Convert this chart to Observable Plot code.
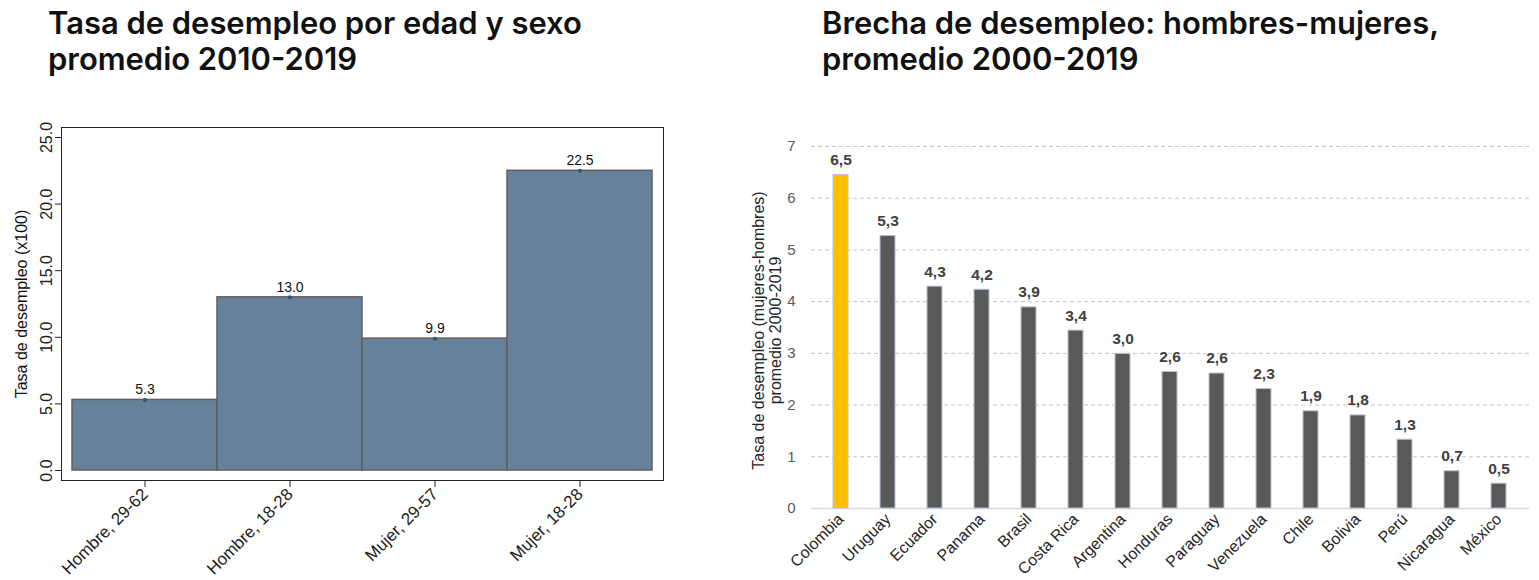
<!DOCTYPE html>
<html><head><meta charset="utf-8">
<script src="https://cdn.jsdelivr.net/npm/d3@7"></script>
<script src="https://cdn.jsdelivr.net/npm/@observablehq/plot@0.6"></script>
<style>
body{margin:0;background:#fff;width:1539px;height:580px;position:relative;overflow:hidden;font-family:"Liberation Sans",Arial,sans-serif}
.title{position:absolute;font-family:Inter,Roboto,"Liberation Sans",sans-serif;font-weight:600;font-size:30px;line-height:36px;color:#111;white-space:nowrap}
#t1{left:48px;top:5px}
#t2{left:822px;top:5px}
#c1{position:absolute;left:0;top:100px}
#c2{position:absolute;left:700px;top:100px}
</style></head><body>
<div class="title" id="t1"><span id="l1">Tasa de desempleo por edad y sexo</span><br>promedio 2010-2019</div>
<div class="title" id="t2">Brecha de desempleo: hombres-mujeres,<br>promedio 2000-2019</div>
<div id="c1"></div>
<div id="c2"></div>
<script>
// Left chart data
const groups = ["Hombre, 29-62", "Hombre, 18-28", "Mujer, 29-57", "Mujer, 18-28"];
const rates = [5.3, 13.0, 9.9, 22.5];
const rateLabels = ["5.3", "13.0", "9.9", "22.5"];
const rateTicks = [0, 5, 10, 15, 20, 25];
const rateTickLabels = ["0.0", "5.0", "10.0", "15.0", "20.0", "25.0"];
const rateAxisTitle = "Tasa de desempleo (x100)";

// Right chart data
const countries = ["Colombia", "Uruguay", "Ecuador", "Panama", "Brasil", "Costa Rica", "Argentina", "Honduras", "Paraguay", "Venezuela", "Chile", "Bolivia", "Perú", "Nicaragua", "México"];
const gaps = [6.45, 5.27, 4.29, 4.23, 3.89, 3.44, 2.99, 2.64, 2.61, 2.31, 1.88, 1.80, 1.33, 0.72, 0.48];
const gapLabels = ["6,5", "5,3", "4,3", "4,2", "3,9", "3,4", "3,0", "2,6", "2,6", "2,3", "1,9", "1,8", "1,3", "0,7", "0,5"];
const gapTicks = [0, 1, 2, 3, 4, 5, 6, 7];
const gapTickLabels = ["0", "1", "2", "3", "4", "5", "6", "7"];
const highlight = "Colombia";
const gapAxisTitle = "Tasa de desempleo (mujeres-hombres)\npromedio 2000-2019";

// fit title font size to the reference title width
(function fitTitles() {
  const w = document.getElementById("l1").getBoundingClientRect().width;
  if (w > 0) {
    const fs = 30 * 534 / w;
    document.querySelectorAll(".title").forEach(el => { el.style.fontSize = fs + "px"; });
  }
})();

const left = groups.map((g, i) => ({g, v: rates[i], label: rateLabels[i]}));
const p1 = Plot.plot({
  width: 680, height: 480,
  marginLeft: 61, marginRight: 17, marginTop: 27, marginBottom: 100,
  style: {fontFamily: "'Liberation Sans', Arial, sans-serif", color: "#222", background: "#fff"},
  x: {domain: groups, padding: 0, insetLeft: 11, insetRight: 11, label: null},
  y: {domain: [0, 25], insetTop: 10, insetBottom: 10, label: null},
  marks: [
    Plot.barY(left, {x: "g", y: "v", fill: "#67819a", stroke: "#5f5f5f", strokeWidth: 1.5}),
    Plot.dot(left, {x: "g", y: "v", r: 2, fill: "#2d5576", stroke: "none"}),
    Plot.text(left, {x: "g", y: "v", text: "label", dy: -10, fontSize: 14, fill: "#111"}),
    Plot.frame({stroke: "#222", strokeWidth: 1}),
    Plot.axisY({ticks: rateTicks, tickFormat: d => rateTickLabels[rateTicks.indexOf(d)], tickRotate: -90, tickSize: 6, tickPadding: 4, fontSize: 16, label: null}),
    Plot.axisX({tickRotate: -45, tickSize: 7, tickPadding: 4, fontSize: 17, label: null}),
    Plot.text([rateAxisTitle], {frameAnchor: "left", textAnchor: "middle", rotate: -90, dx: -40, fontSize: 16, text: d => d, fill: "#111"})
  ]
});
document.getElementById("c1").append(p1);

const right = countries.map((c, i) => ({c, v: gaps[i], label: gapLabels[i]}));
const p2 = Plot.plot({
  width: 839, height: 480,
  marginLeft: 111, marginRight: 10, marginTop: 46, marginBottom: 72,
  style: {fontFamily: "'Liberation Sans', Arial, sans-serif", color: "#262626", background: "#fff"},
  x: {domain: countries, paddingInner: 0.68, paddingOuter: 0.34, label: null},
  y: {domain: [0, 7], label: null},
  marks: [
    Plot.gridY(gapTicks.slice(1), {stroke: "#c4c4c4", strokeOpacity: 1, strokeDasharray: "4,3"}),
    Plot.ruleY([0], {stroke: "#d9d9d9", strokeWidth: 1.5}),
    Plot.barY(right, {x: "c", y: "v", fill: d => d.c === highlight ? "#ffc000" : "#595959", stroke: "#b8c4d6", strokeWidth: 1}),
    Plot.text(right, {x: "c", y: "v", text: "label", dy: -15, fontSize: 15.5, fontWeight: "bold", fill: "#404040"}),
    Plot.axisY({ticks: gapTicks, tickFormat: d => gapTickLabels[gapTicks.indexOf(d)], tickSize: 0, tickPadding: 16, fontSize: 15, color: "#595959", label: null}),
    Plot.axisX({tickRotate: -45, tickSize: 0, tickPadding: 8, fontSize: 16, label: null}),
    Plot.text([gapAxisTitle], {frameAnchor: "left", textAnchor: "middle", rotate: -90, dx: -44.5, dy: 3, fontSize: 16, lineHeight: 1.06, text: d => d, fill: "#262626"})
  ]
});
document.getElementById("c2").append(p2);
</script>
</body></html>
